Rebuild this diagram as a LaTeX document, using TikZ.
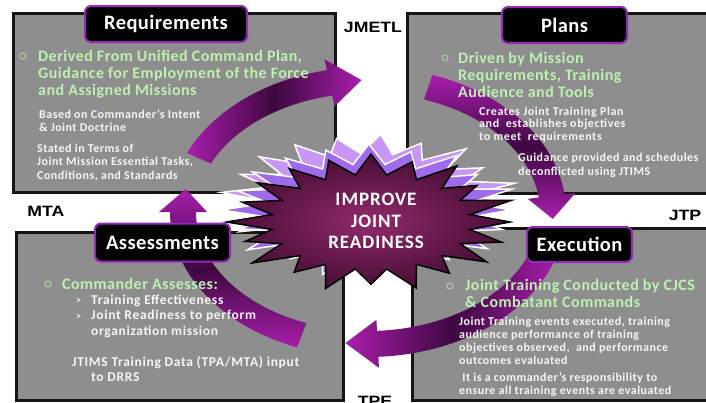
\documentclass[tikz,border=0pt]{standalone}
\usepackage{fontspec}
\setmainfont{Carlito}
\newfontfamily\labfont{Liberation Sans}
\usetikzlibrary{shapes.geometric}

\definecolor{boxgray}{RGB}{142,142,142}
\definecolor{greentxt}{RGB}{190,240,178}
\definecolor{whitetxt}{RGB}{246,246,246}
\definecolor{hdrpurple}{RGB}{150,40,190}
\definecolor{arrbright}{RGB}{168,30,172}
\definecolor{arrdark}{RGB}{62,8,64}
\definecolor{burstin}{RGB}{145,42,108}
\definecolor{burstout}{RGB}{72,14,52}
\definecolor{lavone}{RGB}{200,150,245}
\definecolor{lavtwo}{RGB}{158,108,235}
\definecolor{bulletc}{RGB}{170,200,160}

\newcommand\wfont[3]{\bfseries\fontsize{#1}{#2}\selectfont\addfontfeatures{LetterSpace=#3}}

\tikzset{
 panel/.style={fill=boxgray, draw=black!92, line width=3pt},
 header/.style={fill=black, draw=hdrpurple, line width=2pt, rounded corners=6pt,
   text=white, font=\wfont{20.5}{20.5}{2}, inner sep=0pt},
 greenblk/.style={text=greentxt, font=\wfont{16}{17.2}{3},
   align=left, inner sep=0pt, anchor=base west},
 whiteblk/.style={text=whitetxt, font=\wfont{12}{12.8}{4}, align=left, inner sep=0pt, anchor=base west},
 bulletdot/.style={circle, draw=bulletc, line width=1.1pt, inner sep=0pt, minimum size=6pt},
 sidelabel/.style={font=\labfont\bfseries\fontsize{15}{15}\selectfont, text=black, inner sep=0pt},
 bursttext/.style={text=white, font=\wfont{19}{21.5}{5}, align=center, inner sep=0pt},
}

% curved band arrow along the ellipse centred at (368,212)
\newcommand\purparrow[4]{%
  \path[#4] plot[domain=#1:#2, samples=36] ({368+198*cos(\x)}, {212+145*sin(\x)})
   -- ({368+209*cos(#2)}, {212+156*sin(#2)})
   -- ({368+185*cos(#3)}, {212+132*sin(#3)})
   -- ({368+161*cos(#2)}, {212+108*sin(#2)})
   -- plot[domain=#2:#1, samples=36] ({368+172*cos(\x)}, {212+119*sin(\x)})
   -- cycle;}

% starburst: #1 rx, #2 ry, #3 phase, #4 options
\newcommand\starburst[4]{%
  \path[#4] ({#1*cos(#3)}, {#2*sin(#3)})
   \foreach \i [evaluate=\i as \r using {mod(\i,2)==0 ? 1+0.06*sin(\i*97) : 0.72},
                evaluate=\i as \a using {\i*9+#3}] in {1,...,39}
   { -- ({#1*\r*cos(\a)}, {#2*\r*sin(\a)}) } -- cycle;}

\begin{document}
\begin{tikzpicture}[x=1pt, y=-1pt]
\useasboundingbox (0,0) rectangle (706,402);
\fill[white] (0,0) rectangle (706,402);

% panels
\path[panel] (13,13) rectangle (335,192);
\path[panel] (407,13) rectangle (716,193);
\path[panel] (16,232) rectangle (343,400);
\path[panel] (412,228) rectangle (716,400);

% cycle arrows
\purparrow{204}{258}{268}{left color=arrbright, right color=arrbright, middle color=arrdark}
\purparrow{289}{353}{363}{top color=arrbright, bottom color=arrbright, middle color=arrdark}
\purparrow{15}{87}{97}{left color=arrbright, right color=arrbright, middle color=arrdark}
\purparrow{111}{180}{190}{top color=arrbright, bottom color=arrbright, middle color=arrdark}

% central starburst
\begin{scope}[shift={(368,198)}]
 \starburst{142}{62}{5}{fill=lavone, draw=white, line width=1.5pt}
\end{scope}
\begin{scope}[shift={(369,210)}]
 \starburst{142}{64}{0}{fill=lavtwo, draw=white, line width=1.5pt}
\end{scope}
\begin{scope}[shift={(371,222)}]
 \starburst{139}{66}{0}{inner color=burstin, outer color=burstout, draw=black, line width=1.5pt}
\end{scope}
\node[bursttext] (goal) at (376,221) {IMPROVE\\JOINT\\READINESS};

% headers
\node[header, minimum width=162pt, minimum height=36pt] (req) at (166,24) {Requirements};
\node[header, minimum width=125pt, minimum height=36pt] (plans) at (564.5,25) {Plans};
\node[header, minimum width=135pt, minimum height=38pt] (assess) at (162.5,242.5) {Assessments};
\node[header, minimum width=105pt, minimum height=35pt] (exec) at (579.5,244.5) {Execution};

% Requirements text (node base = baseline of last line)
\node[bulletdot] (b1) at (23,56) {};
\node[greenblk] (req1) at (38,95.9) {Derived From Unified Command Plan,\\Guidance for Employment of the Force\\and Assigned Missions};
\node[whiteblk] (req2) at (39,131.3) {Based on Commander’s Intent\\\&~Joint Doctrine};
\node[whiteblk, font=\wfont{12}{13.5}{4}] (req3) at (37,179) {Stated in Terms of\\Joint Mission Essential Tasks,\\Conditions, and Standards};

% Plans text
\node[bulletdot] (b2) at (445,58) {};
\node[greenblk] (pl1) at (458,97.7) {Driven by Mission\\Requirements, Training\\Audience and Tools};
\node[whiteblk, font=\wfont{12}{12.8}{5}] (pl2) at (479,140.6) {Creates Joint Training Plan\\and~ establishes objectives\\to meet~ requirements};
\node[whiteblk, font=\wfont{12}{14}{4}] (pl3) at (518,175) {Guidance provided and schedules\\deconflicted using JTIMS};

% Assessments text
\node[bulletdot] (b3) at (48,284) {};
\node[greenblk] (as1) at (62,289.5) {Commander Assesses:};
\node[whiteblk, font=\bfseries\fontsize{10}{10}\selectfont] (ch1) at (76,303) {>};
\node[whiteblk, font=\bfseries\fontsize{10}{10}\selectfont] (ch2) at (76,319) {>};
\node[whiteblk, font=\wfont{13.5}{15.5}{5}] (as2) at (91,335) {Training Effectiveness\\Joint Readiness to perform\\organization mission};
\node[whiteblk, font=\wfont{13.5}{14.5}{5}] (as3) at (72,381.2) {JTIMS Training Data (TPA/MTA) input\\\hspace*{19pt}to DRRS};

% Execution text
\node[bulletdot] (b4) at (450,286) {};
\node[greenblk] (ex1) at (465,307.9) {Joint Training Conducted by CJCS\\\&~Combatant Commands};
\node[whiteblk] (ex2) at (459,364.1) {Joint Training events executed, training\\audience performance of training\\objectives observed,~ and performance\\outcomes evaluated};
\node[whiteblk, font=\wfont{12}{13}{4}] (ex3) at (459,394) {~It is a commander’s responsibility to\\ensure all training events are evaluated};

% side labels
\node[sidelabel] (jmetl) at (373,27) {\scalebox{1.18}[1]{JMETL}};
\node[sidelabel] (mta) at (46,211) {\scalebox{1.18}[1]{MTA}};
\node[sidelabel] (jtp) at (685,215) {\scalebox{1.18}[1]{JTP}};
\node[sidelabel] (tpe) at (375,401.5) {\scalebox{1.18}[1]{TPE}};
\end{tikzpicture}
\end{document}
